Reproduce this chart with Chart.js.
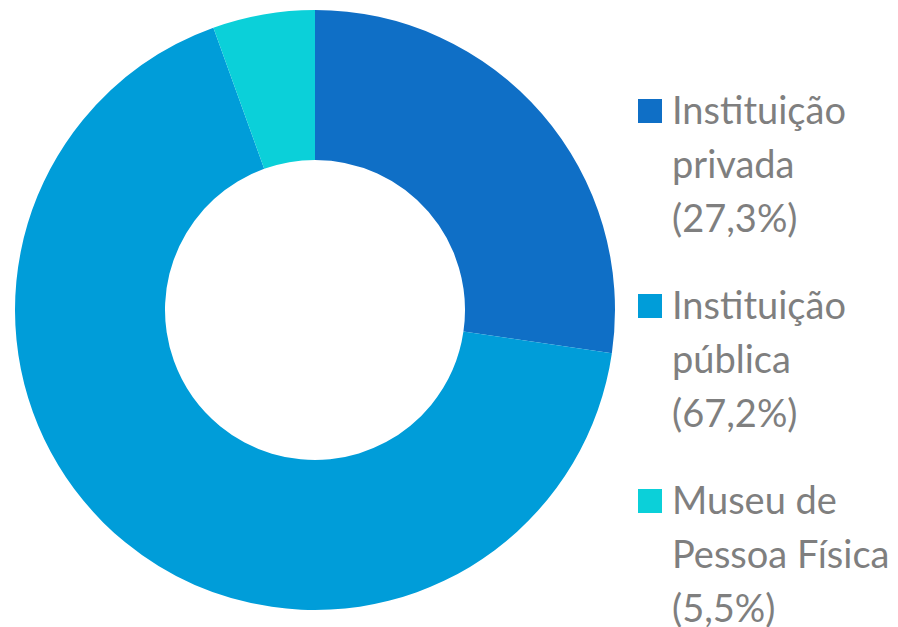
<!DOCTYPE html>
<html>
<head>
<meta charset="utf-8">
<script src="https://cdn.jsdelivr.net/npm/chart.js@4.4.1/dist/chart.umd.min.js"></script>
<style>
  html, body {
    margin: 0;
    padding: 0;
    background: #ffffff;
    overflow: hidden;
  }
  #wrap {
    position: relative;
    width: 898px;
    height: 627px;
  }
  #chartBox {
    position: absolute;
    left: 0;
    top: 0;
    width: 630px;
    height: 627px;
  }
  #legend {
    position: absolute;
    left: 638px;
    top: 82px;
    font-family: Lato, "Open Sans", sans-serif;
    font-size: 38px;
    color: #7f7f7f;
  }
  .item {
    position: relative;
    padding-left: 34px;
    line-height: 54px;
    margin-bottom: 33px;
    white-space: nowrap;
  }
  .box {
    position: absolute;
    left: 0;
    top: 17px;
    width: 24px;
    height: 24px;
  }
</style>
</head>
<body>
<div id="wrap">
  <div id="chartBox"><canvas id="chart"></canvas></div>
  <div id="legend"></div>
</div>
<script>
// Chart data.
var categories = [
  ['Instituição', 'privada'],
  ['Instituição', 'pública'],
  ['Museu de', 'Pessoa Física']
];
var shares = [27.3, 67.2, 5.5];
var shareLabels = ['27,3%', '67,2%', '5,5%'];
var colors = ['#0f6fc6', '#009dd9', '#0bd0d9'];

/**
 * @description Build html legend next to the doughnut.
 */
function buildLegend(container) {
  container.innerHTML = '';
  categories.forEach(function (lines, i) {
    var item = document.createElement('div');
    item.className = 'item';

    var box = document.createElement('span');
    box.className = 'box';
    box.style.background = colors[i];
    item.appendChild(box);

    lines.concat('(' + shareLabels[i] + ')').forEach(function (line) {
      var row = document.createElement('div');
      row.textContent = line;
      item.appendChild(row);
    });

    container.appendChild(item);
  });
}

var chart = new Chart(document.getElementById('chart'), {
  type: 'doughnut',
  data: {
    labels: categories,
    datasets: [{
      data: shares,
      backgroundColor: colors,
      borderWidth: 0,
      hoverOffset: 0
    }]
  },
  options: {
    responsive: true,
    maintainAspectRatio: false,
    animation: false,
    cutout: '50%',
    layout: {
      padding: { top: 10, bottom: 17, left: 0, right: 0 }
    },
    plugins: {
      legend: { display: false },
      tooltip: { enabled: false }
    }
  }
});

buildLegend(document.getElementById('legend'));
</script>
</body>
</html>
